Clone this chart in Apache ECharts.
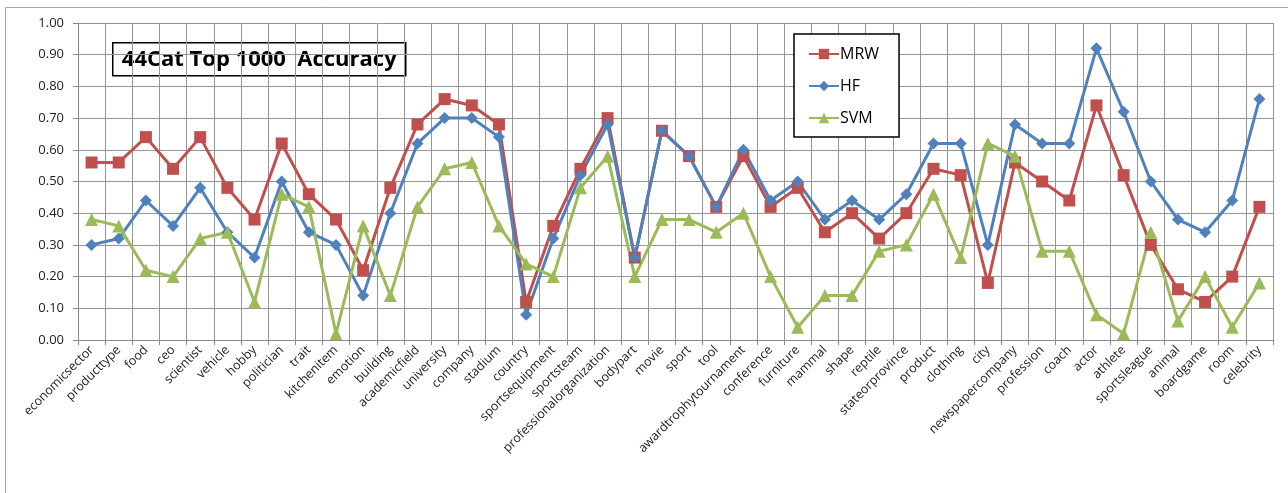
<!DOCTYPE html>
<html>
<head>
<meta charset="utf-8">
<script src="https://cdn.jsdelivr.net/npm/echarts@6/dist/echarts.min.js"></script>
<style>
html,body{margin:0;padding:0;background:#fff;}
#chart{width:1288px;height:493px;}
</style>
</head>
<body>
<div id="chart"></div>
<script>
// 类别
var categories=['economicsector','producttype','food','ceo','scientist','vehicle','hobby','politician','trait','kitchenitem',
	'emotion','building','academicfield','university','company','stadium','country','sportsequipment','sportsteam','professionalorganization',
	'bodypart','movie','sport','tool','awardtrophytournament','conference','furniture','mammal','shape','reptile',
	'stateorprovince','product','clothing','city','newspapercompany','profession','coach','actor','athlete','sportsleague',
	'animal','boardgame','room','celebrity'];

var mrw=[0.56,0.56,0.64,0.54,0.64,0.48,0.38,0.62,0.46,0.38,
	0.22,0.48,0.68,0.76,0.74,0.68,0.12,0.36,0.54,0.70,
	0.26,0.66,0.58,0.42,0.58,0.42,0.48,0.34,0.40,0.32,
	0.40,0.54,0.52,0.18,0.56,0.50,0.44,0.74,0.52,0.30,
	0.16,0.12,0.20,0.42];

var hf=[0.30,0.32,0.44,0.36,0.48,0.34,0.26,0.50,0.34,0.30,
	0.14,0.40,0.62,0.70,0.70,0.64,0.08,0.32,0.52,0.68,
	0.26,0.66,0.58,0.42,0.60,0.44,0.50,0.38,0.44,0.38,
	0.46,0.62,0.62,0.30,0.68,0.62,0.62,0.92,0.72,0.50,
	0.38,0.34,0.44,0.76];

var svm=[0.38,0.36,0.22,0.20,0.32,0.34,0.12,0.46,0.42,0.02,
	0.36,0.14,0.42,0.54,0.56,0.36,0.24,0.20,0.48,0.58,
	0.20,0.38,0.38,0.34,0.40,0.20,0.04,0.14,0.14,0.28,
	0.30,0.46,0.26,0.62,0.58,0.28,0.28,0.08,0.02,0.34,
	0.06,0.20,0.04,0.18];

var yTicks={min:0,max:1,interval:0.1};

var font='"Open Sans", sans-serif';
var chart=echarts.init(document.getElementById('chart'));

function mkSeries(name,data,color,symbol,size){
	return {
		name:name,
		type:'line',
		data:data,
		symbol:symbol,
		symbolSize:size,
		showAllSymbol:true,
		lineStyle:{color:color,width:3},
		itemStyle:{color:color},
		emphasis:{disabled:true},
		animation:false
	};
}

var option={
	backgroundColor:'#ffffff',
	animation:false,
	graphic:[
		{
			type:'rect',
			shape:{x:5.5,y:7.5,width:1290,height:500},
			style:{fill:'none',stroke:'#a6a6a6',lineWidth:1},
			silent:true
		},
		{
			type:'group',
			left:112,
			top:42,
			z:100,
			children:[
				{
					type:'rect',
					shape:{x:0.5,y:0.5,width:293,height:33},
					style:{fill:'#fff',stroke:'#000',lineWidth:1.5}
				},
				{
					type:'text',
					x:147,
					y:17,
					style:{
						text:'44Cat Top 1000  Accuracy',
						font:'bold 22px '+font,
						fill:'#000',
						align:'center',
						verticalAlign:'middle'
					}
				}
			]
		}
	],
	legend:{
		orient:'vertical',
		left:794,
		top:34,
		padding:[12,20,11,14],
		itemGap:16,
		itemWidth:30,
		itemHeight:13,
		borderColor:'#000',
		borderWidth:1.5,
		backgroundColor:'#fff',
		textStyle:{fontFamily:font,fontSize:16,color:'#000',padding:[0,0,0,-4]},
		data:['MRW','HF','SVM']
	},
	grid:{left:78,right:15,top:23,bottom:153},
	xAxis:{
		type:'category',
		data:categories,
		boundaryGap:true,
		axisLine:{lineStyle:{color:'#888',width:1}},
		axisTick:{show:true,length:5,lineStyle:{color:'#888'}},
		splitLine:{show:true,lineStyle:{color:'#959595',width:1}},
		axisLabel:{
			interval:0,
			rotate:45,
			margin:8,
			fontFamily:font,
			fontSize:12.5,
			color:'#222'
		}
	},
	yAxis:{
		type:'value',
		min:yTicks.min,
		max:yTicks.max,
		interval:yTicks.interval,
		axisLine:{show:true,lineStyle:{color:'#888'}},
		axisTick:{show:true,length:5,lineStyle:{color:'#888'}},
		splitLine:{show:true,lineStyle:{color:'#959595',width:1}},
		axisLabel:{
			margin:14,
			fontFamily:font,
			fontSize:13,
			color:'#222',
			formatter:function(v){return v.toFixed(2);}
		}
	},
	series:[
		mkSeries('MRW',mrw,'#c0504d','rect',12),
		mkSeries('HF',hf,'#4f81bd','diamond',12),
		mkSeries('SVM',svm,'#9bbb59','triangle',13)
	]
};
chart.setOption(option);
</script>
</body>
</html>
